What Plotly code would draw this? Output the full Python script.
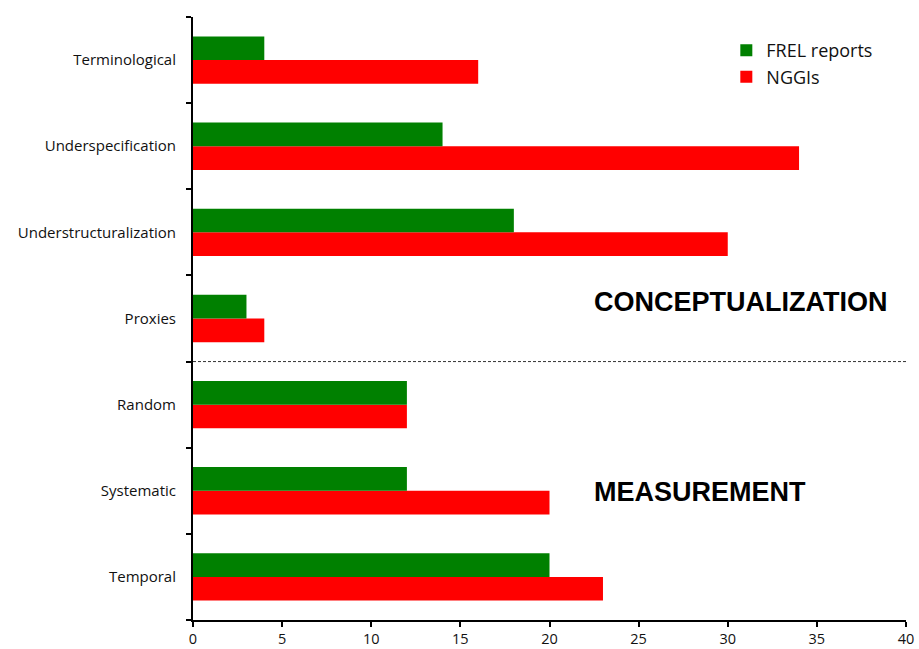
import plotly.graph_objects as go

categories = ["Temporal", "Systematic", "Random", "Proxies",
              "Understructuralization", "Underspecification", "Terminological"]
frel_reports = [20, 12, 12, 3, 18, 14, 4]
nggis = [23, 20, 12, 4, 30, 34, 16]
x_ticks = [0, 5, 10, 15, 20, 25, 30, 35, 40]

font_family = "Open Sans, Liberation Sans, Arial, sans-serif"

fig = go.Figure()
fig.add_trace(go.Bar(y=categories, x=nggis, orientation="h", name="NGGIs",
                     marker=dict(color="#ff0000", line=dict(width=0))))
fig.add_trace(go.Bar(y=categories, x=frel_reports, orientation="h", name="FREL reports",
                     marker=dict(color="#008000", line=dict(width=0))))

fig.update_layout(
    width=919, height=649,
    margin=dict(l=193, r=13, t=17, b=29),
    paper_bgcolor="white", plot_bgcolor="white",
    barmode="group", bargap=0.45, bargroupgap=0,
    font=dict(family=font_family, size=15, color="#111111"),
    legend=dict(x=0.748, y=0.975, xanchor="left", yanchor="top",
                traceorder="reversed", font=dict(size=18, color="#111111"),
                bgcolor="rgba(0,0,0,0)", itemsizing="constant"),
    xaxis=dict(range=[0, 40], tickvals=x_ticks, showgrid=False, zeroline=False,
               showline=True, linecolor="black", linewidth=2,
               ticks="outside", ticklen=5, tickcolor="black", tickwidth=2,
               automargin=False, ticklabelstandoff=0, tickfont=dict(size=14.5)),
    yaxis=dict(categoryorder="array", categoryarray=categories,
               range=[-0.5, 6.5], showgrid=False, zeroline=False,
               showline=True, linecolor="black", linewidth=2,
               ticks="outside", ticklen=5, tickcolor="black", tickwidth=2,
               tickson="boundaries", automargin=False, ticklabelstandoff=12,
               tickfont=dict(size=15)),
    shapes=[dict(type="line", xref="paper", yref="y", x0=0, x1=1, y0=2.5, y1=2.5,
                 line=dict(color="#333333", width=1, dash="3px,2px"))],
    annotations=[
        dict(text="<b>CONCEPTUALIZATION</b>", xref="x", yref="y", x=22.4, y=3.193,
             xanchor="left", yanchor="middle", showarrow=False,
             font=dict(size=27, color="black", family="Liberation Sans, Arial, sans-serif")),
        dict(text="<b>MEASUREMENT</b>", xref="x", yref="y", x=22.4, y=0.987,
             xanchor="left", yanchor="middle", showarrow=False,
             font=dict(size=27, color="black", family="Liberation Sans, Arial, sans-serif")),
    ],
)

fig.write_html("out.html", config={"displayModeBar": False},
               post_script="document.body.style.margin='0';document.body.style.overflow='hidden';")
